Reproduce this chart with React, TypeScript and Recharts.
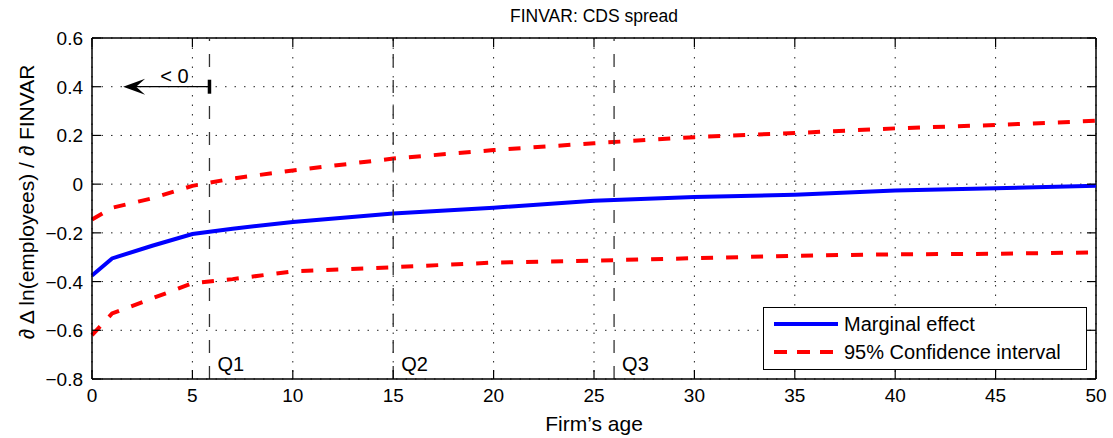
import React from "react";
import {
  LineChart,
  Line,
  XAxis,
  YAxis,
  CartesianGrid,
  ReferenceLine,
  Legend,
} from "recharts";

// values
const ages = [0, 1, 3, 5, 7, 10, 15, 20, 25, 30, 35, 40, 45, 50];
const marginal = [
  -0.375, -0.305, -0.253, -0.205, -0.183, -0.155, -0.121, -0.097, -0.068,
  -0.053, -0.044, -0.026, -0.017, -0.007,
];
const upperCI = [
  -0.145, -0.097, -0.058, -0.007, 0.023, 0.056, 0.105, 0.14, 0.168, 0.193,
  0.21, 0.229, 0.243, 0.26,
];
const lowerCI = [
  -0.62, -0.531, -0.469, -0.407, -0.39, -0.358, -0.341, -0.322, -0.314,
  -0.304, -0.294, -0.288, -0.286, -0.28,
];

const xTicks = [0, 5, 10, 15, 20, 25, 30, 35, 40, 45, 50];
const yTicks = [-0.8, -0.6, -0.4, -0.2, 0, 0.2, 0.4, 0.6];
const legendOrder = ["marginal", "upper"];

const quartiles = [
  { label: "Q1", age: 5.85 },
  { label: "Q2", age: 15 },
  { label: "Q3", age: 26 },
];
const arrowFrom = 5.85;
const arrowTo = 1.55;
const arrowLevel = 0.4;
const arrowText = "< 0";

const data = ages.map((age, i) => ({
  age,
  marginal: marginal[i],
  upper: upperCI[i],
  lower: lowerCI[i],
}));

const W = 1113;
const H = 438;
const Y_AXIS_W = 92;
const X_AXIS_H = 59;
const MARGIN = { top: 38, right: 17, bottom: 0, left: 0 };
const PLOT_TOP = MARGIN.top;
const PLOT_BOTTOM = H - X_AXIS_H;
const PLOT_LEFT = Y_AXIS_W;
const PLOT_RIGHT = W - MARGIN.right;
const TICK_LEN = 9;
const FONT = "'Liberation Sans', Arial, Helvetica, sans-serif";

const fmtY = (v: number) =>
  v === 0 ? "0" : (v < 0 ? "\u2212" : "") + Math.abs(v).toFixed(1);

const XTick = (props: any) => {
  const { x, y, payload } = props;
  return (
    <g>
      <line x1={x} y1={PLOT_BOTTOM} x2={x} y2={PLOT_BOTTOM - TICK_LEN} stroke="#000" strokeWidth={1.2} />
      <line x1={x} y1={PLOT_TOP} x2={x} y2={PLOT_TOP + TICK_LEN} stroke="#000" strokeWidth={1.2} />
      <text x={x} y={y + 23} textAnchor="middle" fontSize={19} fill="#000" fontFamily={FONT}>
        {payload.value}
      </text>
    </g>
  );
};

const YTick = (props: any) => {
  const { x, y, payload } = props;
  return (
    <g>
      <line x1={PLOT_LEFT} y1={y} x2={PLOT_LEFT + TICK_LEN} y2={y} stroke="#000" strokeWidth={1.2} />
      <line x1={PLOT_RIGHT} y1={y} x2={PLOT_RIGHT - TICK_LEN} y2={y} stroke="#000" strokeWidth={1.2} />
      <text x={x - 9} y={y + 7} textAnchor="end" fontSize={19} fill="#000" fontFamily={FONT}>
        {fmtY(payload.value)}
      </text>
    </g>
  );
};

const ArrowShape = (props: any) => {
  const { x1, y1, x2, y2 } = props;
  return (
    <g>
      <line x1={x1} y1={y1} x2={x2 + 12} y2={y2} stroke="#000" strokeWidth={1.3} />
      <polygon
        points={`${x2},${y2} ${x2 + 22},${y2 - 8} ${x2 + 13},${y2} ${x2 + 22},${y2 + 8}`}
        fill="#000"
      />
      <line x1={x1} y1={y1 - 7} x2={x1} y2={y1 + 7} stroke="#000" strokeWidth={3.5} />
      <text x={x1 - 35} y={y1 - 4} textAnchor="middle" fontSize={20} fill="#000" fontFamily={FONT}>
        {arrowText}
      </text>
    </g>
  );
};

const YLabel = () => (
  <text
    transform="translate(34, 202) rotate(-90)"
    x={0}
    y={0}
    textAnchor="middle"
    fontSize={21}
    fill="#000"
    fontFamily={FONT}
  >
    ∂ Δ ln(employees) / ∂ FINVAR
  </text>
);

const LegendBox = ({ payload }: any) => {
  const items = (payload || [])
    .filter((e: any) => legendOrder.includes(e.dataKey))
    .sort((a: any, b: any) => legendOrder.indexOf(a.dataKey) - legendOrder.indexOf(b.dataKey));
  return (
    <div
      style={{
        width: 324,
        height: 63,
        border: "1.5px solid #000",
        background: "#fff",
        boxSizing: "border-box",
      }}
    >
      <svg width={321} height={60}>
        {items.map((entry: any, i: number) => {
          const cy = 16 + i * 28;
          const dashed = entry.dataKey === "upper";
          return (
            <g key={entry.value}>
              <line x1={10} x2={74} y1={cy} y2={cy} stroke={entry.color} strokeWidth={4} strokeDasharray={dashed ? "13 10" : undefined} />
              <text x={80} y={cy + 7} fontSize={20} fill="#000" fontFamily={FONT}>
                {entry.value}
              </text>
            </g>
          );
        })}
      </svg>
    </div>
  );
};

export default function App() {
  return (
    <div style={{ position: "absolute", left: 0, top: 0, width: W, height: H, background: "#fff", fontFamily: FONT }}>
      <div
        style={{
          position: "absolute",
          top: 5,
          left: PLOT_LEFT,
          width: PLOT_RIGHT - PLOT_LEFT,
          textAlign: "center",
          fontSize: 17.5,
          lineHeight: "22px",
          color: "#000",
        }}
      >
        FINVAR: CDS spread
      </div>
      <LineChart width={W} height={H} data={data} margin={MARGIN}>
        <CartesianGrid stroke="#222" strokeWidth={1} strokeDasharray="1.5 8" />
        <XAxis
          dataKey="age"
          type="number"
          domain={[0, 50]}
          ticks={xTicks}
          height={X_AXIS_H}
          axisLine={{ stroke: "#000", strokeWidth: 1.5 }}
          tickLine={false}
          tickSize={0}
          tickMargin={0}
          tick={<XTick />}
          interval={0}
          label={{ value: "Firm\u2019s age", position: "insideBottom", offset: 7, fontSize: 21, fill: "#000" }}
        />
        <YAxis
          type="number"
          domain={[-0.8, 0.6]}
          ticks={yTicks}
          width={Y_AXIS_W}
          axisLine={{ stroke: "#000", strokeWidth: 1.5 }}
          tickLine={false}
          tickSize={0}
          tickMargin={0}
          tick={<YTick />}
          interval={0}
          label={YLabel}
        />
        <ReferenceLine y={0.6} stroke="#000" strokeWidth={1.5} />
        <ReferenceLine x={50} stroke="#000" strokeWidth={1.5} />
        <Line
          type="linear"
          dataKey="marginal"
          name="Marginal effect"
          stroke="#0000ff"
          strokeWidth={4}
          dot={false}
          activeDot={false}
          isAnimationActive={false}
        />
        <Line
          type="linear"
          dataKey="upper"
          name="95% Confidence interval"
          stroke="#ff0000"
          strokeWidth={4}
          strokeDasharray="12 13"
          dot={false}
          activeDot={false}
          isAnimationActive={false}
        />
        <Line
          type="linear"
          dataKey="lower"
          name="lower"
          legendType="none"
          stroke="#ff0000"
          strokeWidth={4}
          strokeDasharray="12 13"
          dot={false}
          activeDot={false}
          isAnimationActive={false}
        />
        {quartiles.map((q) => (
          <ReferenceLine
            key={q.label}
            x={q.age}
            stroke="#333"
            strokeWidth={1.3}
            strokeDasharray="13 13"
            label={{ value: q.label, position: "insideBottomLeft", offset: 8, fontSize: 20, fill: "#000" }}
          />
        ))}
        <ReferenceLine
          segment={[
            { x: arrowFrom, y: arrowLevel },
            { x: arrowTo, y: arrowLevel },
          ]}
          shape={ArrowShape}
        />
        <Legend
          layout="vertical"
          align="center"
          verticalAlign="middle"
          content={<LegendBox />}
          wrapperStyle={{ left: 763, top: 307, width: 324, height: 63 }}
        />
      </LineChart>
    </div>
  );
}
